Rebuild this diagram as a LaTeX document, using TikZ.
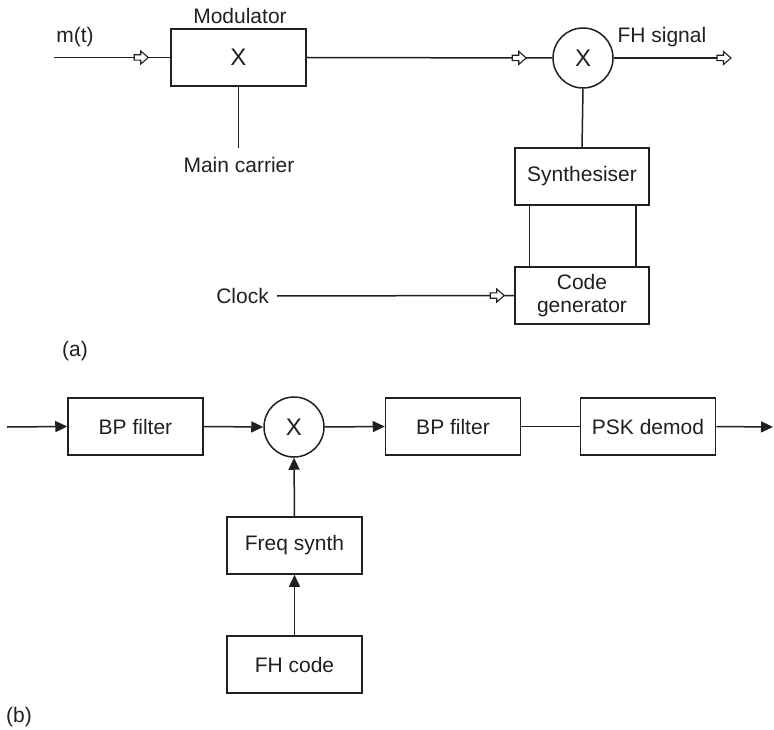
\documentclass[tikz,border=0pt]{standalone}
\usepackage{fontspec}
\setmainfont{Liberation Sans}
\usetikzlibrary{arrows.meta,decorations.markings}
\definecolor{ink}{HTML}{231F20}
\tikzset{
  x=1pt, y=-1pt,
  every node/.style={text=ink, font=\fontsize{21}{24}\selectfont},
  blk/.style={draw=ink, line width=1.5pt, minimum width=135pt, minimum height=57pt, inner sep=0pt, align=center},
  mixer/.style={draw=ink, line width=1.5pt, circle, minimum size=60pt, inner sep=0pt},
  wire/.style={draw=ink, line width=1.5pt},
  solidarr/.style={wire, -{Triangle[length=12pt,width=11pt]}},
  blockarrow/.pic={\draw[ink, line width=1.1pt, fill=white] (-14,-2.7)--(-7.5,-2.7)--(-7.5,-6.5)--(0,0)--(-7.5,6.5)--(-7.5,2.7)--(-14,2.7)--cycle;},
  openmark/.style={postaction={decorate, decoration={markings, mark=at position #1 with {\pic{blockarrow};}}}}
}
\begin{document}
\begin{tikzpicture}
\useasboundingbox (0,0) rectangle (774,730);
% ---------- (a) ----------
\node[blk] (mod) at (238.5,57.5) {\fontsize{24}{26}\selectfont X};
\node (modlbl) at (240,16) {Modulator};
\node (mt) at (75,37) {m(t)};
\coordinate (min) at (54,57.5);
\draw[wire, openmark=-22pt] (min) -- (mod.west);
\coordinate (mc) at (238.5,148);
\draw[wire] (mod.south) -- (mc);
\node (carrier) at (239,165) {Main carrier};

\node[mixer] (mix1) at (583,58) {\fontsize{24}{26}\selectfont X};
\draw[wire, openmark=-26pt] (mod.east) -- (mix1.west);
\node[anchor=west] (fhs) at (614,37) {FH signal};
\coordinate (out1) at (731,58);
\draw[wire, openmark=1] (mix1.east) -- (out1);

\node[blk, minimum width=134pt] (synth) at (582,176.5) {Synthesiser};
\draw[wire] (mix1.south) -- (synth.north);
\node[blk, minimum width=134pt] (codegen) at (582,295.5) {Code\\[-1pt]generator};
\draw[wire] ([xshift=15pt]synth.south west) -- ([xshift=15pt]codegen.north west);
\draw[wire] ([xshift=-14pt]synth.south east) -- ([xshift=-14pt]codegen.north east);
\node[anchor=east, inner sep=0pt] (clock) at (269,296) {Clock};
\draw[wire, openmark=-10pt] ([xshift=8pt]clock.east) -- (codegen.west);
\node (la) at (75,351) {(a)};

% ---------- (b) ----------
\coordinate (inb) at (7,427);
\node[blk] (bp1) at (135.5,426.5) {BP filter};
\node[mixer] (mix2) at (294,427) {\fontsize{24}{26}\selectfont X};
\node[blk] (bp2) at (453,426.5) {BP filter};
\node[blk] (psk) at (648,426.5) {PSK demod};
\coordinate (outb) at (773,427);
\node[blk] (fsynth) at (294.5,545.5) {Freq synth};
\node[blk] (fhcode) at (294.5,664.5) {FH code};
\draw[solidarr] (inb) -- (bp1.west);
\draw[solidarr] (bp1.east) -- (mix2.west);
\draw[solidarr] (mix2.east) -- (bp2.west);
\draw[wire] (bp2.east) -- (psk.west);
\draw[solidarr] (psk.east) -- (outb);
\draw[solidarr] (fsynth.north) -- (mix2.south);
\draw[solidarr] (fhcode.north) -- (fsynth.south);
\node (lb) at (19,717) {(b)};
\end{tikzpicture}
\end{document}
